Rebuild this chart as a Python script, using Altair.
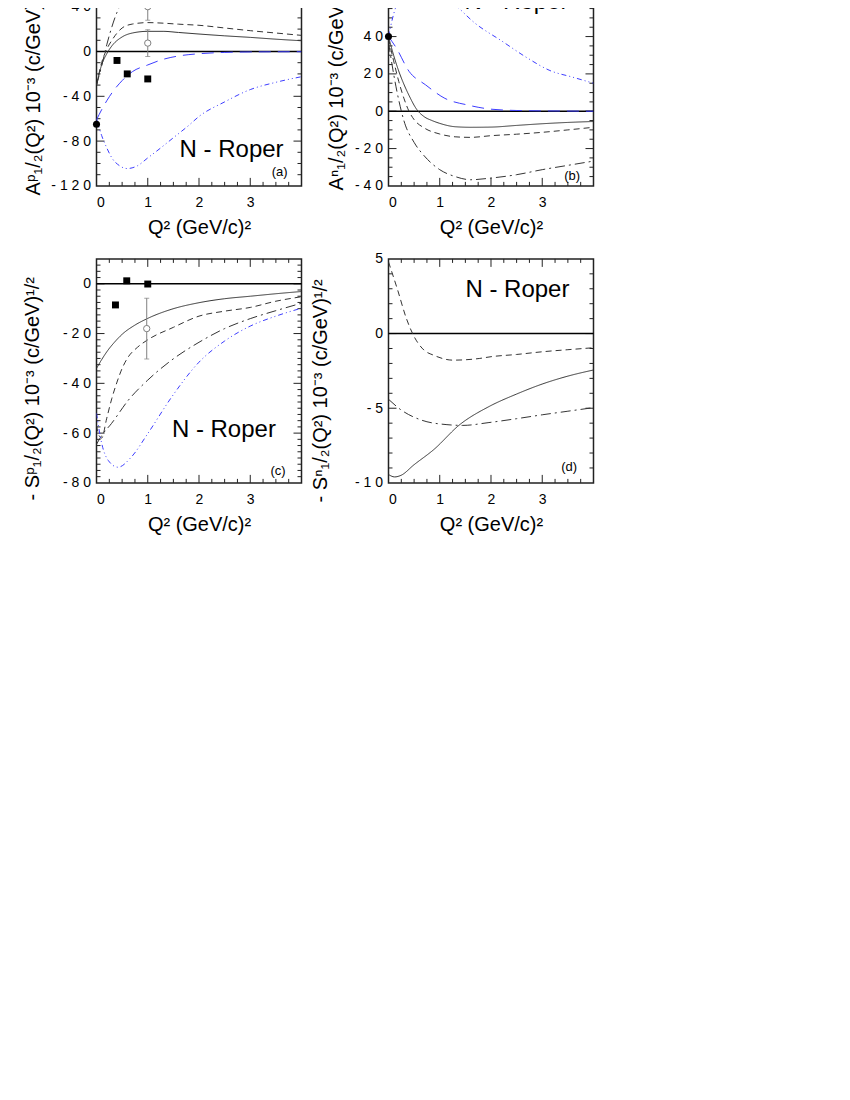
import altair as alt
import pandas as pd

FONT = "Liberation Sans"
W = 205
H = 224
BLACK = "#333333"
BLUE = "#3c3cff"
GREY = "#808080"

# ---------------- panel (a): A^p_1/2 ----------------
a_solid_x = [0, 0.1, 0.2, 0.3, 0.5, 0.7, 1.0, 1.3, 1.6, 2.0, 2.5, 3.0, 3.5, 4.0]
a_solid_y = [-30, -12, -2, 5, 13, 16.5, 18, 18, 17, 15.6, 14, 12.6, 11, 9.6]
a_dash_x = [0, 0.1, 0.2, 0.3, 0.5, 0.7, 1.0, 1.3, 1.6, 2.0, 2.5, 3.0, 3.5, 4.0]
a_dash_y = [-30, -10, 2, 10, 21, 24.5, 25.8, 25.3, 24.4, 23.4, 21, 18.6, 16.5, 14.4]
a_dd_x = [0, 0.1, 0.2, 0.3, 0.4, 0.5, 0.7, 1.0, 1.5, 2.0, 3.0, 4.0]
a_dd_y = [-30, -13, 6, 22, 35, 44, 57, 66, 70, 70, 66, 62]
a_bdash_x = [0, 0.1, 0.2, 0.3, 0.5, 0.7, 1.0, 1.3, 1.6, 2.0, 2.5, 3.0, 4.0]
a_bdash_y = [-61, -52, -44, -37, -26, -18, -12, -7, -4, -2, -0.8, -0.4, -0.2]
a_bddd_x = [0, 0.1, 0.2, 0.3, 0.45, 0.6, 0.8, 1.0, 1.2, 1.5, 1.8, 2.0, 2.5, 3.0, 3.5, 4.0]
a_bddd_y = [-60, -75, -86, -95, -102, -104.5, -102, -95, -88, -77, -66, -58, -45, -34, -27.5, -22.5]
a_fc_x, a_fc_y = [0], [-65]
a_sq_x, a_sq_y = [0.4, 0.6, 1.0], [-8, -20, -24.5]
a_oc_x, a_oc_y, a_oc_err = [1.0, 1.0], [40, 7.5], [12, 12]

# ---------------- panel (b): A^n_1/2 ----------------
b_solid_x = [0, 0.1, 0.2, 0.3, 0.4, 0.55, 0.7, 0.85, 1.0, 1.3, 1.6, 2.0, 2.5, 3.0, 3.5, 4.0]
b_solid_y = [40, 30, 21.5, 14.5, 8.5, 1, -3, -5, -6.5, -8.3, -8.6, -8.5, -7.6, -6.7, -6, -5.5]
b_dash_x = [0, 0.1, 0.2, 0.3, 0.4, 0.5, 0.7, 1.0, 1.3, 1.6, 2.0, 2.5, 3.0, 3.5, 4.0]
b_dash_y = [39, 27, 16, 7, 0, -4.5, -9, -12.2, -13.7, -14, -13.1, -12.3, -11.3, -10, -8.6]
b_dd_x = [0, 0.1, 0.2, 0.3, 0.5, 0.7, 1.0, 1.3, 1.6, 2.0, 2.5, 3.0, 3.5, 4.0]
b_dd_y = [37, 20, 6, -5, -16.7, -24, -31.3, -35, -36.7, -35.8, -34, -31.3, -29, -26.7]
b_bdash_x = [0, 0.15, 0.4, 0.72, 1.1, 1.55, 2.0, 2.5, 3.0, 3.5, 4.0]
b_bdash_y = [40, 34, 21.4, 14.2, 6.9, 3.3, 1.1, 0.4, 0.2, 0.1, 0]
b_bddd_x = [0, 0.1, 0.2, 0.35, 0.6, 0.9, 1.2, 1.7, 2.2, 2.7, 3.15, 3.6, 4.0]
b_bddd_y = [40, 52, 60, 67, 70, 66, 59.6, 46.9, 37.8, 28.7, 21.8, 18.2, 15]
b_fc_x, b_fc_y = [0], [40]

# ---------------- panel (c): -S^p_1/2 ----------------
c_solid_x = [0, 0.1, 0.23, 0.35, 0.5, 0.75, 1.0, 1.47, 2.0, 2.5, 3.0, 3.5, 4.0]
c_solid_y = [-34, -30.5, -26.5, -23.5, -20.3, -16.6, -13.9, -10.2, -7.6, -6, -5, -4, -3.1]
c_dash_x = [0, 0.05, 0.1, 0.2, 0.3, 0.4, 0.5, 0.6, 0.8, 1.0, 1.5, 2.0, 2.5, 3.0, 3.5, 4.0]
c_dash_y = [-57, -61, -62, -54, -46, -39.5, -34, -30, -25.5, -22.5, -17.5, -13, -11, -9.5, -7, -5.2]
c_dd_x = [0, 0.1, 0.29, 0.62, 1.0, 1.47, 2.0, 2.5, 3.0, 3.5, 4.0]
c_dd_y = [-64.5, -61, -56.2, -46.8, -38.7, -30.6, -23.5, -18, -14, -10.8, -7.8]
c_bddd_x = [0, 0.1, 0.23, 0.42, 0.68, 1.0, 1.47, 2.0, 2.5, 3.0, 3.5, 4.0]
c_bddd_y = [-52, -64, -71, -73.7, -69.6, -60.2, -45.4, -31.5, -23, -17, -13, -9.8]
c_sq_x, c_sq_y = [0.37, 0.59, 1.0], [-8.5, 1.2, -0.1]
c_oc_x, c_oc_y, c_oc_err = [0.98], [-18], [12.2]

# ---------------- panel (d): -S^n_1/2 ----------------
d_dash_x = [0, 0.18, 0.34, 0.47, 0.69, 0.88, 1.26, 1.77, 2.0, 2.5, 3.0, 3.5, 4.0]
d_dash_y = [4.8, 2.9, 1.1, 0, -1.1, -1.45, -1.78, -1.67, -1.55, -1.4, -1.22, -1.08, -0.95]
d_solid_x = [0, 0.12, 0.24, 0.5, 0.88, 1.39, 1.96, 2.5, 3.0, 3.5, 4.0]
d_solid_y = [-9.44, -9.6, -9.5, -8.78, -7.78, -6.1, -4.89, -4.05, -3.38, -2.85, -2.44]
d_dd_x = [0, 0.24, 0.63, 1.14, 1.45, 1.96, 2.5, 3.0, 3.5, 4.0]
d_dd_y = [-4.4, -5.1, -5.78, -6.1, -6.15, -5.96, -5.7, -5.44, -5.2, -4.96]

# axis tick values
x_major = [0, 1, 2, 3]
x_minor_step = 0.25
a_major, a_minor_step = [-120, -80, -40, 0, 40, 80], 10
b_major, b_minor_step = [-40, -20, 0, 20, 40, 60, 80], 5
c_major, c_minor_step = [-80, -60, -40, -20, 0], 2.5
d_major, d_minor_step = [-10, -5, 0, 5], 1

STYLE = {
    "solid": dict(color=BLACK, strokeDash=[1, 0]),
    "dash": dict(color=BLACK, strokeDash=[6, 4]),
    "dd": dict(color=BLACK, strokeDash=[10, 4, 2, 4]),
    "bdash": dict(color=BLUE, strokeDash=[12, 7]),
    "bddd": dict(color=BLUE, strokeDash=[5, 3, 1, 3, 1, 3]),
}

LABEL_EXPR = "(datum.value < 0 ? '- ' : '') + join(split(toString(abs(datum.value)), ''), ' ')"
GAP = "     "


def steps(lo, hi, step):
    out, v = [], lo
    while v <= hi + 1e-9:
        out.append(round(v, 4))
        v += step
    return out


def panel(domain, major, minor_step, ytitle, title_pos, curves, fc=None, sq=None,
          oc=None, label=None, tag=None, anchor=False):
    xs = alt.Scale(domain=[0, 4], nice=False, zero=False)
    ys = alt.Scale(domain=domain, nice=False, zero=False)
    xaxis = alt.Axis(values=x_major, title="Q²  (GeV/c)²", ticks=False, domain=False,
                     grid=False, labelPadding=10, titlePadding=8)
    yaxis = alt.Axis(values=major, title=ytitle, ticks=False, domain=False, grid=False,
                     labelExpr=LABEL_EXPR, labelPadding=6,
                     titleX=title_pos[0], titleY=title_pos[1], titleAngle=270,
                     titleAlign="left", titleBaseline="alphabetic")
    X = lambda f="x": alt.X(f"{f}:Q", scale=xs, axis=xaxis)
    Y = lambda f="y": alt.Y(f"{f}:Q", scale=ys, axis=yaxis)

    layers = []
    if anchor:
        # invisible layout anchor (outside the page) fixing the chart origin
        layers.append(alt.Chart(pd.DataFrame({"k": [0]})).mark_rule(
            color="white", strokeWidth=1).encode(
            x=alt.value(-110), x2=alt.value(-100), y=alt.value(-60)))
    # inward ticks on all four sides
    xminor = [v for v in steps(0, 4, x_minor_step) if v not in x_major and 0 < v < 4]
    yminor = [v for v in steps(domain[0], domain[1], minor_step)
              if v not in major and domain[0] < v < domain[1]]
    ymaj = [v for v in major if domain[0] < v < domain[1]]
    xmaj = [v for v in x_major if 0 < v < 4]
    for vals, L in ((xmaj, 8), (xminor, 4)):
        df = pd.DataFrame({"x": vals})
        layers.append(alt.Chart(df).mark_rule(color="#222", strokeWidth=1).encode(
            x=X(), y=alt.value(H - L), y2=alt.value(H)))
        layers.append(alt.Chart(df).mark_rule(color="#222", strokeWidth=1).encode(
            x=X(), y=alt.value(0), y2=alt.value(L)))
    for vals, L in ((ymaj, 8), (yminor, 4)):
        df = pd.DataFrame({"y": vals})
        layers.append(alt.Chart(df).mark_rule(color="#222", strokeWidth=1).encode(
            y=Y(), x=alt.value(0), x2=alt.value(L)))
        layers.append(alt.Chart(df).mark_rule(color="#222", strokeWidth=1).encode(
            y=Y(), x=alt.value(W - L), x2=alt.value(W)))

    # zero line
    layers.append(alt.Chart(pd.DataFrame({"y": [0]})).mark_rule(
        color="black", strokeWidth=1.6).encode(y=Y(), x=alt.value(0), x2=alt.value(W)))

    for kind, cx, cy in curves:
        df = pd.DataFrame({"x": cx, "y": cy})
        layers.append(alt.Chart(df).mark_line(
            clip=True, strokeWidth=1, interpolate="monotone", **STYLE[kind]
        ).encode(x=X(), y=Y()))

    if oc is not None:
        ox, oy, oe = oc
        df = pd.DataFrame({"x": ox, "y": oy, "lo": [a - e for a, e in zip(oy, oe)],
                           "hi": [a + e for a, e in zip(oy, oe)]})
        layers.append(alt.Chart(df).mark_rule(color=GREY, strokeWidth=1, clip=True).encode(
            x=X(), y=Y("lo"), y2="hi:Q"))
        for f in ("lo", "hi"):
            layers.append(alt.Chart(df).mark_tick(
                color=GREY, orient="horizontal", size=5, thickness=1, clip=True
            ).encode(x=X(), y=Y(f)))
        layers.append(alt.Chart(df).mark_point(
            shape="circle", filled=True, fill="white", stroke=GREY, strokeWidth=1,
            size=40, opacity=1, clip=True).encode(x=X(), y=Y()))
    if sq is not None:
        df = pd.DataFrame({"x": sq[0], "y": sq[1]})
        layers.append(alt.Chart(df).mark_point(
            shape="square", filled=True, color="black", size=48, opacity=1).encode(x=X(), y=Y()))
    if fc is not None:
        df = pd.DataFrame({"x": fc[0], "y": fc[1]})
        layers.append(alt.Chart(df).mark_point(
            shape="circle", filled=True, color="black", size=50, opacity=1).encode(x=X(), y=Y()))

    if label is not None:
        lx, ly = label
        df = pd.DataFrame({"x": [lx], "y": [ly], "t": ["N - Roper"]})
        layers.append(alt.Chart(df).mark_text(
            align="right", baseline="alphabetic", fontSize=24, font=FONT, color="black"
        ).encode(x=X(), y=Y(), text="t:N"))
    if tag is not None:
        tx, ty, tt = tag
        df = pd.DataFrame({"x": [tx], "y": [ty], "t": [tt]})
        layers.append(alt.Chart(df).mark_text(
            align="right", baseline="alphabetic", fontSize=13, font=FONT, color="black"
        ).encode(x=X(), y=Y(), text="t:N"))

    return alt.layer(*layers).properties(width=W, height=H)


pa = panel([-120, 80], a_major, a_minor_step,
           "Aᵖ₁/₂(Q²)" + GAP + "10⁻³" + GAP + "(c/GeV)¹/²", (-57, 233),
           [("solid", a_solid_x, a_solid_y), ("dash", a_dash_x, a_dash_y),
            ("dd", a_dd_x, a_dd_y), ("bdash", a_bdash_x, a_bdash_y),
            ("bddd", a_bddd_x, a_bddd_y)],
           fc=(a_fc_x, a_fc_y), sq=(a_sq_x, a_sq_y), oc=(a_oc_x, a_oc_y, a_oc_err),
           label=(3.65, -94.6), tag=(3.73, -110.8, "(a)"), anchor=True)
pb = panel([-40, 80], b_major, b_minor_step,
           "Aⁿ₁/₂(Q²)" + GAP + "10⁻³" + GAP + "(c/GeV)¹/²", (-46, 228),
           [("solid", b_solid_x, b_solid_y), ("dash", b_dash_x, b_dash_y),
            ("dd", b_dd_x, b_dd_y), ("bdash", b_bdash_x, b_bdash_y),
            ("bddd", b_bddd_x, b_bddd_y)],
           fc=(b_fc_x, b_fc_y), label=(3.51, 55), tag=(3.74, -36.7, "(b)"))
pc = panel([-80, 10], c_major, c_minor_step,
           "- Sᵖ₁/₂(Q²)" + GAP + "10⁻³" + GAP + "(c/GeV)¹/²", (-58, 241),
           [("solid", c_solid_x, c_solid_y), ("dash", c_dash_x, c_dash_y),
            ("dd", c_dd_x, c_dd_y), ("bddd", c_bddd_x, c_bddd_y)],
           sq=(c_sq_x, c_sq_y), oc=(c_oc_x, c_oc_y, c_oc_err),
           label=(3.5, -61.6), tag=(3.69, -76.9, "(c)"))
pd_ = panel([-10, 5], d_major, d_minor_step,
            "- Sⁿ₁/₂(Q²)" + GAP + "10⁻³" + GAP + "(c/GeV)¹/²", (-62, 243),
            [("solid", d_solid_x, d_solid_y), ("dash", d_dash_x, d_dash_y),
             ("dd", d_dd_x, d_dd_y)],
            label=(3.53, 2.45), tag=(3.68, -9.2, "(d)"))

chart = alt.concat(pa, pb, pc, pd_, columns=2, spacing={"row": 73, "column": 87},
                   bounds="flush").properties(
    padding={"left": -23.5, "top": -108.1, "right": 5, "bottom": 5},
    background="white",
).configure_view(stroke="#222", strokeWidth=1.5).configure_axis(
    labelFont=FONT, titleFont=FONT, labelFontSize=14, titleFontSize=20,
    titleFontWeight="normal", labelColor="black", titleColor="black"
)

chart.save("out.html", embed_options={"renderer": "svg", "actions": False})
